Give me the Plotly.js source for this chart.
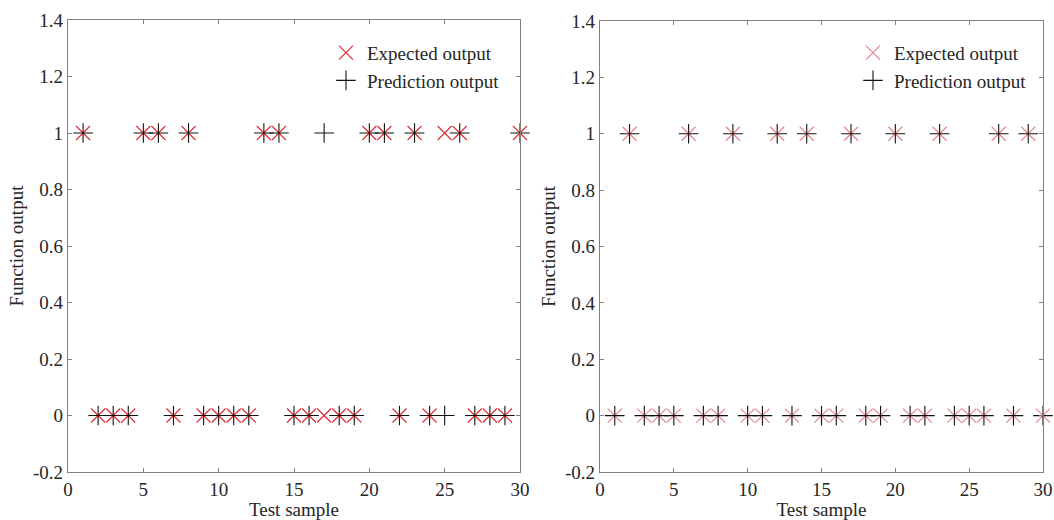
<!DOCTYPE html>
<html>
<head>
<meta charset="utf-8">
<script src="https://cdn.plot.ly/plotly-3.0.1.min.js"></script>
<style>
  html, body { margin: 0; padding: 0; background: #ffffff; }
  #chart { width: 1054px; height: 520px; }
</style>
</head>
<body>
<div id="chart"></div>
<script>
// Test sample indices
const samples = [1,2,3,4,5,6,7,8,9,10,11,12,13,14,15,16,17,18,19,20,21,22,23,24,25,26,27,28,29,30];

// Left panel: expected vs. predicted class
const expectedA   = [1,0,0,0,1,1,0,1,0,0,0,0,1,1,0,0,0,0,0,1,1,0,1,0,1,1,0,0,0,1];
const predictedA  = [1,0,0,0,1,1,0,1,0,0,0,0,1,1,0,0,1,0,0,1,1,0,1,0,0,1,0,0,0,1];

// Right panel: expected vs. predicted class
const expectedB   = [0,1,0,0,0,1,0,0,1,0,0,1,0,1,0,0,1,0,0,1,0,0,1,0,0,0,1,0,1,0];
const predictedB  = [0,1,0,0,0,1,0,0,1,0,0,1,0,1,0,0,1,0,0,1,0,0,1,0,0,0,1,0,1,0];

// Axis ticks
const xTicks = [0,5,10,15,20,25,30];
const yTicks = [-0.2,0,0.2,0.4,0.6,0.8,1,1.2,1.4];
const yTickText = ['-0.2','0','0.2','0.4','0.6','0.8','1','1.2','1.4'];

const FONT = 'Liberation Serif, Times New Roman, serif';
const AXIS_COLOR = '#808080';
const TEXT_COLOR = '#262626';
const FS = 19;

function expectedTrace(y, xa, ya, leg, color) {
  return {
    x: samples, y: y, xaxis: xa, yaxis: ya, legend: leg,
    type: 'scatter', mode: 'markers', name: 'Expected output',
    marker: { symbol: 'x-thin-open', size: 14, color: color, line: { color: color, width: 1.1 } },
    cliponaxis: false
  };
}
function predictedTrace(y, xa, ya, leg) {
  return {
    x: samples, y: y, xaxis: xa, yaxis: ya, legend: leg,
    type: 'scatter', mode: 'markers', name: 'Prediction output',
    marker: { symbol: 'cross-thin-open', size: 14, color: '#111111', line: { color: '#111111', width: 1.1 } },
    cliponaxis: false
  };
}

const traces = [
  expectedTrace(expectedA, 'x', 'y', 'legend', '#e3262f'),
  predictedTrace(predictedA, 'x', 'y', 'legend'),
  expectedTrace(expectedB, 'x2', 'y2', 'legend2', 'rgba(222,60,72,0.65)'),
  predictedTrace(predictedB, 'x2', 'y2', 'legend2')
];

function xAxis(domain, anchor) {
  return {
    domain: domain, anchor: anchor, range: [0, 30],
    tickmode: 'array', tickvals: xTicks,
    showline: true, mirror: 'ticks', linecolor: AXIS_COLOR, linewidth: 1.2,
    ticks: 'inside', ticklen: 4, tickcolor: AXIS_COLOR, tickwidth: 1,
    showgrid: false, zeroline: false,
    tickfont: { family: FONT, size: FS, color: TEXT_COLOR },
    title: { text: 'Test sample', font: { family: FONT, size: FS, color: TEXT_COLOR }, standoff: 0 }
  };
}
function yAxis(domain, anchor) {
  return {
    domain: domain, anchor: anchor, range: [-0.2, 1.4],
    tickmode: 'array', tickvals: yTicks, ticktext: yTickText,
    showline: true, mirror: 'ticks', linecolor: AXIS_COLOR, linewidth: 1.2,
    ticks: 'inside', ticklen: 4, tickcolor: AXIS_COLOR, tickwidth: 1,
    showgrid: false, zeroline: false,
    tickfont: { family: FONT, size: FS, color: TEXT_COLOR },
    title: { text: 'Function output', font: { family: FONT, size: FS, color: TEXT_COLOR }, standoff: 4 }
  };
}

function legendBox(x) {
  return {
    x: x, y: 0.935, xanchor: 'left', yanchor: 'top',
    bgcolor: 'rgba(0,0,0,0)', borderwidth: 0,
    font: { family: FONT, size: FS, color: TEXT_COLOR },
    tracegroupgap: 0, itemwidth: 32
  };
}

const layout = {
  width: 1054, height: 520,
  margin: { l: 0, r: 0, t: 0, b: 0 },
  paper_bgcolor: '#ffffff', plot_bgcolor: '#ffffff',
  showlegend: true,
  xaxis: xAxis([68/1054, 520/1054], 'y'),
  yaxis: yAxis([48/520, 500/520], 'x'),
  xaxis2: xAxis([600/1054, 1043/1054], 'y2'),
  yaxis2: yAxis([48/520, 499/520], 'x2'),
  legend: legendBox(325/1054),
  legend2: legendBox(852/1054)
};

Plotly.newPlot('chart', traces, layout, { displayModeBar: false, staticPlot: true });
</script>
</body>
</html>
